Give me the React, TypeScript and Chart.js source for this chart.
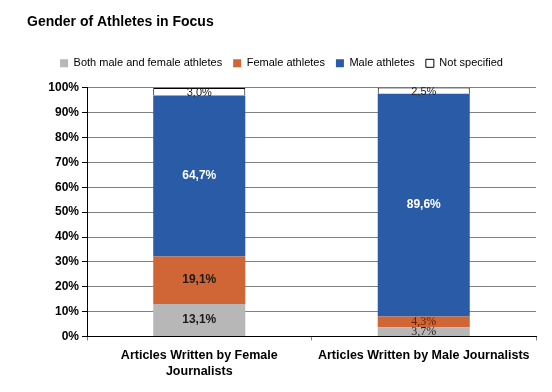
import React, { useEffect, useRef } from "react";
import { Chart, registerables } from "chart.js";

Chart.register(...registerables);

const categories: (string | string[])[] = [
  ["Articles Written by Female", "Journalists"],
  "Articles Written by Male Journalists",
];
const seriesNames = ["Both male and female athletes", "Female athletes", "Male athletes", "Not specified"];
const bothValues = [13.1, 3.7];
const femaleValues = [19.1, 4.3];
const maleValues = [64.7, 89.6];
const notSpecifiedValues = [3.0, 2.5];
const yTicks = [0, 10, 20, 30, 40, 50, 60, 70, 80, 90, 100];

const FONT = "Arial, 'Liberation Sans', sans-serif";

const labelPlugin = {
  id: "segLabels",
  afterDatasetsDraw(chart: any) {
    const ctx = chart.ctx;
    chart.data.datasets.forEach((ds: any, di: number) => {
      const meta = chart.getDatasetMeta(di);
      meta.data.forEach((bar: any, i: number) => {
        const v = ds.data[i];
        const txt = v.toFixed(1).replace(".", ",") + "%";
        const small = v < 5;
        const yc = (bar.y + bar.base) / 2;
        ctx.save();
        ctx.textAlign = "center";
        ctx.textBaseline = "middle";
        if (di === 3) {
          ctx.font = "11px " + FONT;
          ctx.fillStyle = "#222";
          ctx.fillText(txt, bar.x, yc + 1);
        } else if (small) {
          ctx.font = "12px 'Liberation Serif', 'Times New Roman', serif";
          ctx.fillStyle = di === 1 ? "#5a1e0a" : "#222";
          ctx.fillText(txt, bar.x, yc);
        } else {
          ctx.font = "bold 12px " + FONT;
          ctx.fillStyle = di === 2 ? "#ffffff" : "#1a1a1a";
          ctx.fillText(txt, bar.x, yc);
        }
        ctx.restore();
      });
    });
  },
};

const legendMargin = {
  id: "legendMargin",
  beforeInit(chart: any) {
    const legend = chart.legend;
    const orig = legend.fit;
    legend.fit = function () {
      orig.call(legend);
      legend.height += 9;
    };
  },
};

export default function App() {
  const ref = useRef<HTMLCanvasElement>(null);
  useEffect(() => {
    if (!ref.current) return;
    const chart = new Chart(ref.current, {
      type: "bar",
      data: {
        labels: categories,
        datasets: [
          { label: seriesNames[0], data: bothValues, backgroundColor: "#b7b7b7", borderWidth: 0 },
          { label: seriesNames[1], data: femaleValues, backgroundColor: "#d06535", borderWidth: 0 },
          { label: seriesNames[2], data: maleValues, backgroundColor: "#2a5ba6", borderWidth: 0 },
          { label: seriesNames[3], data: notSpecifiedValues, backgroundColor: "#ffffff", borderColor: "#000000", borderWidth: 1 },
        ],
      },
      options: {
        animation: false,
        responsive: false,
        maintainAspectRatio: false,
        layout: { padding: { left: 27, right: 16, top: 14, bottom: 5 } },
        datasets: { bar: { barPercentage: 0.41, categoryPercentage: 1 } },
        plugins: {
          title: {
            display: true,
            text: "Gender of Athletes in Focus",
            align: "start",
            color: "#000",
            font: { family: FONT, size: 14, weight: "bold" },
            padding: { top: 0, bottom: 16 },
          },
          legend: {
            display: true,
            align: "center",
            labels: {
              color: "#000",
              font: { family: FONT, size: 11 },
              boxWidth: 8,
              boxHeight: 8,
              padding: 11,
              useBorderRadius: false,
            },
          },
          tooltip: { enabled: false },
        },
        scales: {
          x: {
            stacked: true,
            grid: { display: true, drawOnChartArea: false, drawTicks: true, offset: true, tickLength: 4, color: "#808080" },
            border: { display: true, color: "#000" },
            ticks: { color: "#000", font: { family: FONT, size: 12.5, weight: "bold", lineHeight: 1.3 }, maxRotation: 0, padding: 7 },
          },
          y: {
            stacked: true,
            min: 0,
            max: 100,
            afterFit(scale: any) { scale.width = 60; },
            afterBuildTicks(scale: any) { scale.ticks = yTicks.map((v) => ({ value: v })); },
            grid: { color: "#808080", tickLength: 5, tickColor: "#000" },
            border: { display: true, color: "#000" },
            ticks: {
              color: "#000",
              font: { family: FONT, size: 12, weight: "bold" },
              callback: (v: any) => v + "%",
              padding: 3,
            },
          },
        },
      } as any,
      plugins: [labelPlugin, legendMargin],
    });
    return () => chart.destroy();
  }, []);
  return (
    <div style={{ position: "fixed", left: 0, top: 0, width: 552, height: 392, background: "#fff" }}>
      <canvas ref={ref} width={552} height={392} style={{ width: 552, height: 392 }} />
    </div>
  );
}
